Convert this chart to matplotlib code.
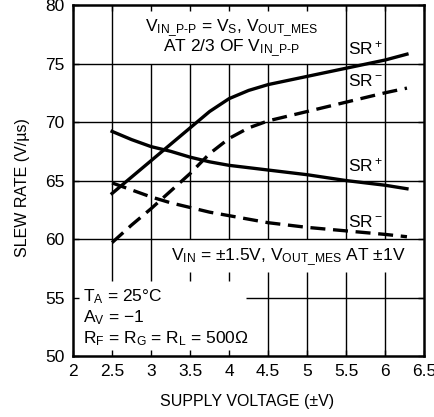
import matplotlib
matplotlib.use("Agg")
import matplotlib.pyplot as plt

plt.rcParams['font.family'] = ['Liberation Sans Narrow', 'Liberation Sans', 'DejaVu Sans']
plt.rcParams['mathtext.default'] = 'regular'

# slew rate vs supply voltage
vs_pts = [2.5, 2.75, 3.0, 3.25, 3.5, 3.75, 4.0, 4.25, 4.5, 5.0, 5.5, 6.0, 6.28]
sr_pos_pp = [63.9, 65.3, 66.7, 68.1, 69.5, 70.9, 72.0, 72.7, 73.2, 73.9, 74.6, 75.3, 75.8]
sr_neg_pp = [59.7, 61.2, 62.6, 64.1, 65.6, 67.3, 68.6, 69.5, 70.1, 70.9, 71.7, 72.5, 72.9]
sr_pos_1v = [69.2, 68.5, 67.9, 67.5, 67.0, 66.6, 66.3, 66.1, 65.9, 65.5, 65.0, 64.6, 64.3]
sr_neg_1v = [64.8, 64.2, 63.6, 63.1, 62.7, 62.3, 62.0, 61.7, 61.4, 61.0, 60.7, 60.4, 60.2]

x_ticks = [2, 2.5, 3, 3.5, 4, 4.5, 5, 5.5, 6, 6.5]
x_labels = ['2', '2.5', '3', '3.5', '4', '4.5', '5', '5.5', '6', '6.5']
y_ticks = [50, 55, 60, 65, 70, 75, 80]

fig = plt.figure(figsize=(4.35, 4.17), dpi=100)
ax = fig.add_axes([0.168, 0.146, 0.807, 0.842])
ax.set_xlim(2, 6.5)
ax.set_ylim(50, 80)

# grid drawn by hand so it stays clear of the note blocks
grid_kw = dict(colors='black', linewidth=1.0, zorder=1)
vgrid = {
    2.5: [(56.4, 80)],
    3.0: [(56.4, 75)],
    3.5: [(56.4, 57.2), (60, 75)],
    4.0: [(56.4, 57.2), (60, 75)],
    4.5: [(50, 57.2), (60, 75)],
    5.0: [(50, 57.2), (60, 75)],
    5.5: [(50, 57.2), (60, 80)],
    6.0: [(50, 57.2), (60, 80)],
}
for xv, segs in vgrid.items():
    for y0, y1 in segs:
        ax.vlines(xv, y0, y1, **grid_kw)
for yv in [60, 65, 70, 75]:
    ax.hlines(yv, 2, 6.5, **grid_kw)
ax.hlines(55, 4.22, 6.5, **grid_kw)

lw = 2.4
dash = (0, (4.5, 2.3))
ax.plot(vs_pts, sr_pos_pp, color='black', lw=lw, zorder=3)
ax.plot(vs_pts, sr_neg_pp, color='black', lw=lw, ls=dash, zorder=3)
ax.plot(vs_pts, sr_pos_1v, color='black', lw=lw, zorder=3)
ax.plot(vs_pts, sr_neg_1v, color='black', lw=lw, ls=dash, zorder=3)

fs = 12.5
ax.text(4.03, 78.0, r'V$_{IN\_P‐P}$ = V$_S$, V$_{OUT\_MES}$', ha='center', va='center', fontsize=fs)
ax.text(4.03, 76.3, r'AT 2/3 OF V$_{IN\_P‐P}$', ha='center', va='center', fontsize=fs)

ax.text(5.75, 76.3, r'SR$^+$', ha='center', va='center', fontsize=fs)
ax.text(5.75, 73.5, r'SR$^−$', ha='center', va='center', fontsize=fs)
ax.text(5.75, 66.3, r'SR$^+$', ha='center', va='center', fontsize=fs)
ax.text(5.75, 61.5, r'SR$^−$', ha='center', va='center', fontsize=fs)

ax.text(6.26, 58.5, r'V$_{IN}$ = ±1.5V, V$_{OUT\_MES}$ AT ±1V', ha='right', va='center', fontsize=fs)

ax.text(2.13, 55.1, r'T$_A$ = 25°C', ha='left', va='center', fontsize=fs)
ax.text(2.13, 53.3, r'A$_V$ = −1', ha='left', va='center', fontsize=fs)
ax.text(2.13, 51.5, r'R$_F$ = R$_G$ = R$_L$ = 500Ω', ha='left', va='center', fontsize=fs)

ax.set_xticks(x_ticks)
ax.set_xticklabels(x_labels)
ax.set_yticks(y_ticks)
ax.tick_params(direction='in', length=4, width=1, top=True, right=True,
               labelsize=fs, pad=6)
for s in ax.spines.values():
    s.set_linewidth(1.8)

ax.set_xlabel('SUPPLY VOLTAGE (±V)', fontsize=11.5)
ax.set_ylabel('SLEW RATE (V/µs)', fontsize=11.5)
ax.xaxis.set_label_coords(0.496, -0.108)
ax.yaxis.set_label_coords(-0.122, 0.481)

fig.savefig('out.png', dpi=100)
